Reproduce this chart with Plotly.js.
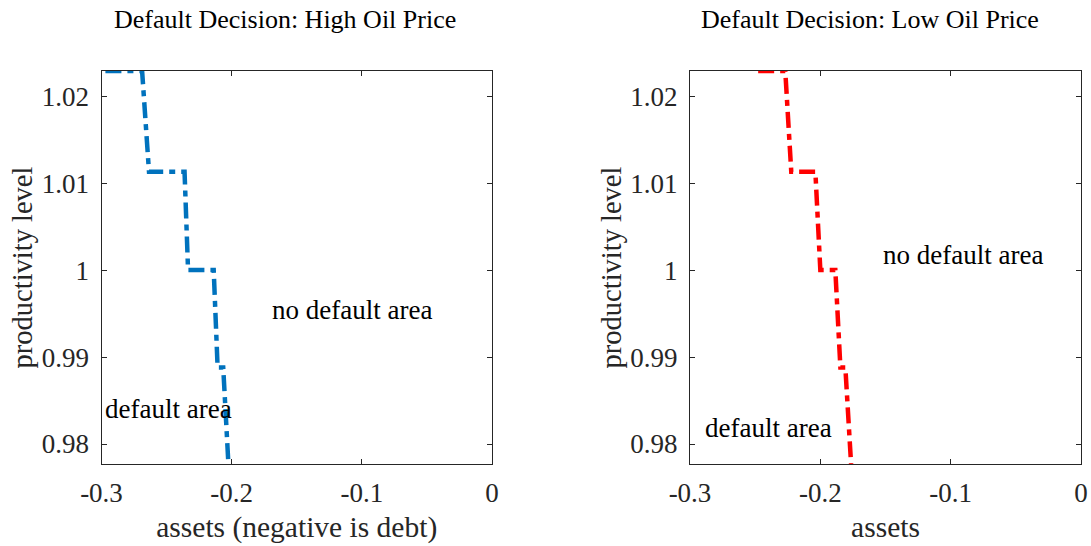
<!DOCTYPE html>
<html>
<head>
<meta charset="utf-8">
<script src="https://cdn.plot.ly/plotly-3.0.1.min.js"></script>
<style>html,body{margin:0;padding:0;background:#fff;}#chart{width:1091px;height:546px;}</style>
</head>
<body>
<div id="chart"></div>
<script>
// Default thresholds (assets where default starts) for each productivity level
const highOilAssets = [-0.2970, -0.2688, -0.2635, -0.2362, -0.2335, -0.2138, -0.2108, -0.2065, -0.2025];
const highOilProd   = [1.0229, 1.0229, 1.0113, 1.0113, 1.0000, 1.0000, 0.9888, 0.9888, 0.9777];
const lowOilAssets  = [-0.2477, -0.2269, -0.2223, -0.2038, -0.2000, -0.1885, -0.1846, -0.1808, -0.1764];
const lowOilProd    = [1.0229, 1.0229, 1.0113, 1.0113, 1.0000, 1.0000, 0.9888, 0.9888, 0.9777];
const xTicks = [-0.3, -0.2, -0.1, 0];
const xTickText = ['-0.3', '-0.2', '-0.1', '0'];
const yTicks = [0.98, 0.99, 1.00, 1.01, 1.02];
const yTickText = ['0.98', '0.99', '1', '1.01', '1.02'];
const titles = ['Default Decision: High Oil Price', 'Default Decision: Low Oil Price'];
const xLabels = ['assets (negative is debt)', 'assets'];
const yLabel = 'productivity level';

const W = 1091, H = 546;
const FONT = 'Liberation Serif, Times New Roman, serif';
const TXT = '#262626';

const dashPattern = '16px,6px,6px,6px';

const traces = [
  {x: highOilAssets, y: highOilProd, xaxis: 'x', yaxis: 'y', mode: 'lines',
   line: {color: '#0072BD', width: 4.5, dash: dashPattern}, showlegend: false, hoverinfo: 'skip'},
  {x: lowOilAssets, y: lowOilProd, xaxis: 'x2', yaxis: 'y2', mode: 'lines',
   line: {color: '#FF0000', width: 4.5, dash: dashPattern}, showlegend: false, hoverinfo: 'skip'}
];

function xAxis(domain, label, anchor) {
  return {
    domain: domain, anchor: anchor, range: [-0.3, 0], tickvals: xTicks, ticktext: xTickText,
    ticks: 'inside', ticklen: 5, tickwidth: 1, tickcolor: TXT, mirror: 'ticks', showline: true,
    linecolor: TXT, linewidth: 1, showgrid: false, zeroline: false, fixedrange: true,
    tickfont: {family: FONT, size: 27, color: TXT}, ticklabelstandoff: 5,
    title: {text: label, font: {family: FONT, size: 29.5, color: TXT}, standoff: 8}
  };
}
function yAxis(domain, anchor) {
  return {
    domain: domain, anchor: anchor, range: [0.9777, 1.0229], tickvals: yTicks, ticktext: yTickText,
    ticks: 'inside', ticklen: 5, tickwidth: 1, tickcolor: TXT, mirror: 'ticks', showline: true,
    linecolor: TXT, linewidth: 1, showgrid: false, zeroline: false, fixedrange: true,
    tickfont: {family: FONT, size: 27, color: TXT}, ticklabelstandoff: 6,
    title: {text: yLabel, font: {family: FONT, size: 28.5, color: TXT}, standoff: 0}
  };
}

const yDom = [(H - 464) / H, (H - 71) / H];
const layout = {
  width: W, height: H,
  margin: {l: 0, r: 0, t: 0, b: 0},
  paper_bgcolor: '#fff', plot_bgcolor: '#fff',
  xaxis: xAxis([101.5 / W, 492 / W], xLabels[0], 'y'),
  yaxis: yAxis(yDom, 'x'),
  xaxis2: xAxis([690 / W, 1081 / W], xLabels[1], 'y2'),
  yaxis2: yAxis(yDom, 'x2'),
  annotations: [
    {text: titles[0], xref: 'paper', yref: 'paper', x: 284.5 / W, y: (H - 20) / H, xanchor: 'center', yanchor: 'middle', showarrow: false, font: {family: FONT, size: 26, color: '#000'}},
    {text: titles[1], xref: 'paper', yref: 'paper', x: 869.5 / W, y: (H - 20) / H, xanchor: 'center', yanchor: 'middle', showarrow: false, font: {family: FONT, size: 26, color: '#000'}},
    {text: 'default area', xref: 'x', yref: 'y', x: -0.2986, y: 0.9840, xanchor: 'left', yanchor: 'middle', showarrow: false, font: {family: FONT, size: 27, color: '#000'}},
    {text: 'no default area', xref: 'x', yref: 'y', x: -0.1704, y: 0.9954, xanchor: 'left', yanchor: 'middle', showarrow: false, font: {family: FONT, size: 27, color: '#000'}},
    {text: 'no default area', xref: 'x2', yref: 'y2', x: -0.1531, y: 1.0017, xanchor: 'left', yanchor: 'middle', showarrow: false, font: {family: FONT, size: 27, color: '#000'}},
    {text: 'default area', xref: 'x2', yref: 'y2', x: -0.2898, y: 0.9818, xanchor: 'left', yanchor: 'middle', showarrow: false, font: {family: FONT, size: 27, color: '#000'}}
  ]
};

Plotly.newPlot('chart', traces, layout, {staticPlot: true, displayModeBar: false});
</script>
</body>
</html>
